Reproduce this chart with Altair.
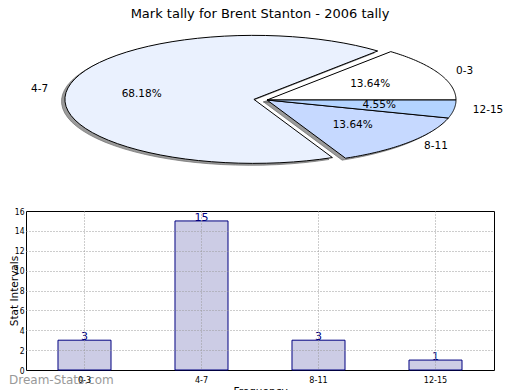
import altair as alt
import pandas as pd

categories = ["0-3", "4-7", "8-11", "12-15"]
counts = [3, 15, 3, 1]
slice_colors = ["#ffffff", "#eaf1fe", "#c6d9ff", "#b4d4ff"]
exploded = ["4-7"]
title_text = "Mark tally for Brent Stanton - 2006 tally"
x_title = "Frequency"
y_title = "Stat Intervals"
y_ticks = [0, 2, 4, 6, 8, 10, 12, 14, 16]
watermark = "Dream-Stats.com"

df = pd.DataFrame({"cat": categories, "count": counts, "idx": list(range(len(categories)))})

FONT = "DejaVu Sans"
COND = "DejaVu Sans Condensed"

# pie geometry (pixels inside the top panel)
CX, CY, RX, RY = 241, 91, 189, 64
xs = alt.Scale(domain=[-1, 1], range=[CX - RX, CX + RX], zero=False, nice=False)
ys = alt.Scale(domain=[-1, 1], range=[CY + RY, CY - RY], zero=False, nice=False)

explode_expr = " || ".join("datum.cat == '%s'" % c for c in exploded)

pie_base = (
    alt.Chart(df)
    .transform_joinaggregate(total="sum(count)")
    .transform_window(cum="sum(count)", sort=[alt.SortField("idx", order="ascending")], frame=[None, 0])
    .transform_calculate(
        a0="2*PI*(datum.cum - datum.count)/datum.total",
        a1="2*PI*datum.cum/datum.total",
        pct="100*datum.count/datum.total",
        ex="(%s) ? 0.07 : 0" % explode_expr,
    )
    .transform_calculate(mid="(datum.a0 + datum.a1)/2")
    .transform_calculate(ox="datum.ex*cos(datum.mid)", oy="datum.ex*sin(datum.mid)")
)

wedge_base = (
    pie_base.transform_calculate(k="sequence(0, 62)")
    .transform_flatten(["k"])
    .transform_calculate(
        ang="datum.a0 + (datum.a1 - datum.a0)*clamp((datum.k - 1)/59, 0, 1)",
        c="(datum.k == 0 || datum.k == 61) ? 0 : 1",
    )
    .transform_calculate(
        px="datum.ox + datum.c*cos(datum.ang)",
        py="datum.oy + datum.c*sin(datum.ang)",
    )
)

shadow = (
    wedge_base.transform_calculate(sx="datum.px - 0.018", sy="datum.py - 0.03")
    .mark_line(fill="#6f6f6f", stroke="#6f6f6f", strokeWidth=1, fillOpacity=0.7, strokeOpacity=0.7)
    .encode(
        x=alt.X("sx:Q", scale=xs, axis=None),
        y=alt.Y("sy:Q", scale=ys, axis=None),
        detail="cat:N",
        order=alt.Order("k:Q"),
    )
)

wedges = wedge_base.mark_line(stroke="black", strokeWidth=1).encode(
    x=alt.X("px:Q", scale=xs, axis=None),
    y=alt.Y("py:Q", scale=ys, axis=None),
    detail="cat:N",
    order=alt.Order("k:Q"),
    fill=alt.Fill("cat:N", scale=alt.Scale(domain=categories, range=slice_colors), legend=None),
)

pct_text = (
    pie_base.transform_calculate(
        tx="datum.ox + 0.6*cos(datum.mid)",
        ty="datum.oy + 0.6*sin(datum.mid)",
        lab="format(datum.pct, '.2f') + '%'",
    )
    .mark_text(font=FONT, fontSize=10.5, align="center", baseline="middle", color="black")
    .encode(
        x=alt.X("tx:Q", scale=xs, axis=None),
        y=alt.Y("ty:Q", scale=ys, axis=None),
        text="lab:N",
    )
)

lab_base = pie_base.transform_calculate(
    tx="datum.ox + 1.1*cos(datum.mid)",
    ty="datum.oy + 1.1*sin(datum.mid)",
)
lab_right = (
    lab_base.transform_filter("cos(datum.mid) >= 0")
    .mark_text(font=FONT, fontSize=10.5, align="left", baseline="middle", color="black")
    .encode(x=alt.X("tx:Q", scale=xs, axis=None), y=alt.Y("ty:Q", scale=ys, axis=None), text="cat:N")
)
lab_left = (
    lab_base.transform_filter("cos(datum.mid) < 0")
    .mark_text(font=FONT, fontSize=10.5, align="right", baseline="middle", color="black")
    .encode(x=alt.X("tx:Q", scale=xs, axis=None), y=alt.Y("ty:Q", scale=ys, axis=None), text="cat:N")
)

top = alt.layer(shadow, wedges, pct_text, lab_right, lab_left).properties(
    width=468,
    height=180,
    title=alt.TitleParams(
        title_text, font=FONT, fontSize=13, fontWeight="normal", color="black",
        frame="group", anchor="middle", offset=-12,
    ),
    view=alt.ViewBackground(stroke=None),
)

grid_op = {"condition": {"test": "datum.value == 0 || datum.value == 16", "value": 0}, "value": 1}

xscale = alt.Scale(paddingInner=0.547, paddingOuter=0.2735)
yscale = alt.Scale(domain=[0, 16], nice=False)

xaxis = alt.Axis(
    title=x_title, labelAngle=0, grid=True, gridDash=[1, 2], gridColor="#9a9a9a",
    ticks=False, domain=False, labelFont=COND, labelFontSize=9, labelColor="black",
    labelPadding=5, titleFont=FONT, titleFontSize=10.5, titleFontWeight="normal",
    titleColor="black", titlePadding=2, bandPosition=0.5, zindex=1,
)
yaxis = alt.Axis(
    values=y_ticks, tickCount=len(y_ticks), labelOverlap=False, title=y_title,
    grid=True, gridDash=[1, 2], gridColor="#9a9a9a",
    gridOpacity=grid_op, ticks=False, domain=False, labelFont=COND, labelFontSize=8.5,
    labelColor="black", labelPadding=2, titleFont=FONT, titleFontSize=10.5,
    titleFontWeight="normal", titleColor="black", titleX=-6.5, titleY=79.5,
    titleAngle=270, titleBaseline="bottom", titleAlign="center", zindex=1,
)

xb = alt.X("cat:N", sort=categories, scale=xscale, axis=xaxis)
yb = alt.Y("count:Q", scale=yscale, axis=yaxis)

bars = alt.Chart(df).mark_bar(fill="#ccccE5", stroke="#000080", strokeWidth=1).encode(x=xb, y=yb)
bar_labels = alt.Chart(df).mark_text(
    font=FONT, fontSize=11, color="#000080", baseline="alphabetic", align="center"
).encode(x=xb, y=yb, text="count:Q")

bottom = alt.layer(bars, bar_labels).properties(
    width=468,
    height=159,
    title=alt.TitleParams(
        watermark, orient="bottom", anchor="start", frame="group", dx=-17, offset=-22,
        font=FONT, fontSize=12, fontWeight="normal", color="#999999", baseline="top",
    ),
    view=alt.ViewBackground(stroke="black", strokeWidth=1),
)

chart = alt.vconcat(top, bottom, spacing=22, bounds="flush").properties(padding=0).configure(font=FONT)

chart.save("out.html", embed_options={"renderer": "svg", "actions": False})
